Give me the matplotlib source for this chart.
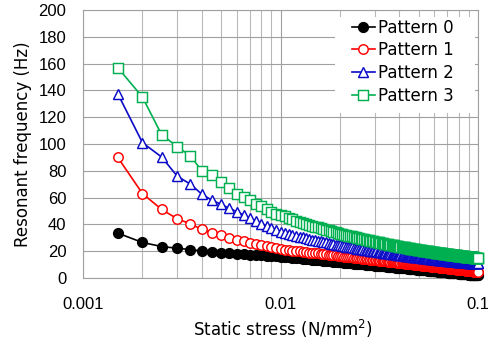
import matplotlib
matplotlib.use("Agg")
import matplotlib.pyplot as plt
from matplotlib.ticker import LogLocator, FuncFormatter, NullFormatter
from matplotlib.patches import Rectangle

# Static stress (N/mm^2)
stress = [
    0.0015, 0.002, 0.0025, 0.003, 0.0035, 0.004, 0.0045, 0.005, 0.0055, 0.006,
    0.0065, 0.007, 0.0075, 0.008, 0.0085, 0.009, 0.0095, 0.01,
    0.0105, 0.011, 0.0115, 0.012, 0.0125, 0.013, 0.0135, 0.014, 0.0145, 0.015,
    0.0155, 0.016, 0.0165, 0.017, 0.0175, 0.018, 0.0185, 0.019, 0.0195, 0.02,
    0.0205, 0.021, 0.0215, 0.022, 0.0225, 0.023, 0.0235, 0.024, 0.0245, 0.025,
    0.0255, 0.026, 0.0265, 0.027, 0.0275, 0.028, 0.0285, 0.029, 0.0295, 0.03,
    0.0305, 0.031, 0.0315, 0.032, 0.0325, 0.033, 0.0335, 0.034, 0.0345, 0.035,
    0.0355, 0.036, 0.0365, 0.037, 0.0375, 0.038, 0.0385, 0.039, 0.0395, 0.04,
    0.0405, 0.041, 0.0415, 0.042, 0.0425, 0.043, 0.0435, 0.044, 0.0445, 0.045,
    0.0455, 0.046, 0.0465, 0.047, 0.0475, 0.048, 0.0485, 0.049, 0.0495, 0.05,
    0.0505, 0.051, 0.0515, 0.052, 0.0525, 0.053, 0.0535, 0.054, 0.0545, 0.055,
    0.0555, 0.056, 0.0565, 0.057, 0.0575, 0.058, 0.0585, 0.059, 0.0595, 0.06,
    0.0605, 0.061, 0.0615, 0.062, 0.0625, 0.063, 0.0635, 0.064, 0.0645, 0.065,
    0.0655, 0.066, 0.0665, 0.067, 0.0675, 0.068, 0.0685, 0.069, 0.0695, 0.07,
    0.0705, 0.071, 0.0715, 0.072, 0.0725, 0.073, 0.0735, 0.074, 0.0745, 0.075,
    0.0755, 0.076, 0.0765, 0.077, 0.0775, 0.078, 0.0785, 0.079, 0.0795, 0.08,
    0.0805, 0.081, 0.0815, 0.082, 0.0825, 0.083, 0.0835, 0.084, 0.0845, 0.085,
    0.0855, 0.086, 0.0865, 0.087, 0.0875, 0.088, 0.0885, 0.089, 0.0895, 0.09,
    0.0905, 0.091, 0.0915, 0.092, 0.0925, 0.093, 0.0935, 0.094, 0.0945, 0.095,
    0.0955, 0.096, 0.0965, 0.097, 0.0975, 0.098, 0.0985, 0.099, 0.0995, 0.1,
]

pattern0 = [
    33.5, 26.5, 23.5, 22.2, 21.2, 20.2, 19.6, 19.0, 18.5, 18.0,
    17.6, 17.3, 17.0, 16.8, 16.6, 16.4, 16.2, 16.0,
    15.7, 15.4, 15.2, 14.9, 14.6, 14.4, 14.2, 14.0, 13.7, 13.5,
    13.3, 13.1, 13.0, 12.8, 12.6, 12.4, 12.3, 12.1, 11.9, 11.8,
    11.6, 11.5, 11.4, 11.2, 11.1, 10.9, 10.8, 10.7, 10.6, 10.4,
    10.3, 10.2, 10.1, 10.0, 9.9, 9.7, 9.6, 9.5, 9.4, 9.3,
    9.2, 9.1, 9.0, 8.9, 8.8, 8.7, 8.7, 8.6, 8.5, 8.4,
    8.3, 8.2, 8.1, 8.1, 8.0, 7.9, 7.8, 7.7, 7.7, 7.6,
    7.5, 7.4, 7.4, 7.3, 7.2, 7.1, 7.1, 7.0, 6.9, 6.9,
    6.8, 6.7, 6.7, 6.6, 6.5, 6.5, 6.4, 6.3, 6.3, 6.2,
    6.2, 6.1, 6.0, 6.0, 5.9, 5.9, 5.8, 5.8, 5.7, 5.6,
    5.6, 5.5, 5.5, 5.4, 5.4, 5.3, 5.3, 5.2, 5.2, 5.1,
    5.1, 5.0, 5.0, 4.9, 4.9, 4.8, 4.8, 4.7, 4.7, 4.6,
    4.6, 4.5, 4.5, 4.4, 4.4, 4.3, 4.3, 4.3, 4.2, 4.2,
    4.1, 4.1, 4.0, 4.0, 4.0, 3.9, 3.9, 3.8, 3.8, 3.8,
    3.7, 3.7, 3.6, 3.6, 3.6, 3.5, 3.5, 3.4, 3.4, 3.4,
    3.3, 3.3, 3.2, 3.2, 3.2, 3.1, 3.1, 3.1, 3.0, 3.0,
    3.0, 2.9, 2.9, 2.9, 2.8, 2.8, 2.7, 2.7, 2.7, 2.6,
    2.6, 2.6, 2.5, 2.5, 2.5, 2.4, 2.4, 2.4, 2.3, 2.3,
    2.3, 2.2, 2.2, 2.2, 2.2, 2.1, 2.1, 2.1, 2.0, 2.0,
]

pattern1 = [
    90.0, 63.0, 51.2, 44.2, 40.4, 36.2, 33.7, 31.9, 30.0, 28.7,
    27.4, 26.3, 25.3, 24.4, 23.6, 22.8, 22.1, 21.5,
    21.1, 20.8, 20.5, 20.2, 19.9, 19.6, 19.3, 19.0, 18.8, 18.5,
    18.3, 18.0, 17.8, 17.6, 17.4, 17.2, 17.0, 16.8, 16.6, 16.4,
    16.2, 16.0, 15.9, 15.7, 15.5, 15.4, 15.2, 15.0, 14.9, 14.7,
    14.6, 14.4, 14.3, 14.2, 14.0, 13.9, 13.8, 13.6, 13.5, 13.4,
    13.3, 13.2, 13.0, 12.9, 12.8, 12.7, 12.6, 12.5, 12.4, 12.3,
    12.2, 12.0, 11.9, 11.8, 11.7, 11.6, 11.6, 11.5, 11.4, 11.3,
    11.2, 11.1, 11.0, 10.9, 10.8, 10.7, 10.7, 10.6, 10.5, 10.4,
    10.3, 10.2, 10.2, 10.1, 10.0, 9.9, 9.8, 9.8, 9.7, 9.6,
    9.5, 9.5, 9.4, 9.3, 9.3, 9.2, 9.1, 9.1, 9.0, 8.9,
    8.9, 8.8, 8.7, 8.7, 8.6, 8.5, 8.5, 8.4, 8.3, 8.3,
    8.2, 8.2, 8.1, 8.0, 8.0, 7.9, 7.9, 7.8, 7.7, 7.7,
    7.6, 7.6, 7.5, 7.5, 7.4, 7.4, 7.3, 7.2, 7.2, 7.1,
    7.1, 7.0, 7.0, 6.9, 6.9, 6.8, 6.8, 6.7, 6.7, 6.6,
    6.6, 6.5, 6.5, 6.4, 6.4, 6.3, 6.3, 6.2, 6.2, 6.2,
    6.1, 6.1, 6.0, 6.0, 5.9, 5.9, 5.8, 5.8, 5.7, 5.7,
    5.7, 5.6, 5.6, 5.5, 5.5, 5.4, 5.4, 5.4, 5.3, 5.3,
    5.2, 5.2, 5.2, 5.1, 5.1, 5.0, 5.0, 5.0, 4.9, 4.9,
    4.8, 4.8, 4.8, 4.7, 4.7, 4.7, 4.6, 4.6, 4.5, 4.5,
]

pattern2 = [
    137.5, 101.0, 90.3, 76.0, 70.0, 62.5, 58.0, 55.0, 52.0, 49.5,
    47.0, 44.5, 42.5, 40.5, 38.8, 37.2, 35.8, 34.5,
    33.7, 32.9, 32.2, 31.5, 30.9, 30.3, 29.7, 29.2, 28.7, 28.2,
    27.7, 27.3, 26.9, 26.5, 26.1, 25.7, 25.4, 25.0, 24.7, 24.4,
    24.1, 23.8, 23.5, 23.3, 23.0, 22.8, 22.5, 22.3, 22.0, 21.8,
    21.6, 21.4, 21.2, 21.0, 20.8, 20.6, 20.4, 20.3, 20.1, 19.9,
    19.8, 19.6, 19.4, 19.3, 19.1, 19.0, 18.9, 18.7, 18.6, 18.4,
    18.3, 18.2, 18.1, 17.9, 17.8, 17.7, 17.6, 17.5, 17.4, 17.3,
    17.1, 17.0, 16.9, 16.8, 16.7, 16.6, 16.5, 16.4, 16.4, 16.3,
    16.2, 16.1, 16.0, 15.9, 15.8, 15.7, 15.7, 15.6, 15.5, 15.4,
    15.4, 15.3, 15.2, 15.1, 15.1, 15.0, 14.9, 14.9, 14.8, 14.7,
    14.6, 14.6, 14.5, 14.5, 14.4, 14.3, 14.3, 14.2, 14.1, 14.1,
    14.0, 14.0, 13.9, 13.9, 13.8, 13.8, 13.7, 13.6, 13.6, 13.5,
    13.5, 13.4, 13.4, 13.3, 13.3, 13.2, 13.2, 13.1, 13.1, 13.0,
    13.0, 13.0, 12.9, 12.9, 12.8, 12.8, 12.7, 12.7, 12.6, 12.6,
    12.6, 12.5, 12.5, 12.4, 12.4, 12.4, 12.3, 12.3, 12.2, 12.2,
    12.2, 12.1, 12.1, 12.1, 12.0, 12.0, 11.9, 11.9, 11.9, 11.8,
    11.8, 11.8, 11.7, 11.7, 11.7, 11.6, 11.6, 11.6, 11.5, 11.5,
    11.5, 11.4, 11.4, 11.4, 11.3, 11.3, 11.3, 11.3, 11.2, 11.2,
    11.2, 11.1, 11.1, 11.1, 11.0, 11.0, 11.0, 11.0, 10.9, 10.9,
]

pattern3 = [
    157.0, 135.0, 107.0, 98.0, 91.0, 80.0, 77.0, 71.5, 67.0, 63.0,
    60.5, 58.0, 55.5, 53.5, 51.5, 49.5, 48.0, 47.0,
    45.9, 44.8, 43.8, 42.9, 42.0, 41.2, 40.5, 39.7, 39.0, 38.4,
    37.8, 37.2, 36.6, 36.1, 35.5, 35.0, 34.6, 34.1, 33.7, 33.2,
    32.8, 32.4, 32.1, 31.7, 31.3, 31.0, 30.7, 30.3, 30.0, 29.7,
    29.4, 29.2, 28.9, 28.6, 28.3, 28.1, 27.8, 27.6, 27.4, 27.1,
    26.9, 26.7, 26.5, 26.3, 26.1, 25.9, 25.7, 25.5, 25.3, 25.1,
    24.9, 24.8, 24.6, 24.4, 24.3, 24.1, 24.0, 23.8, 23.6, 23.5,
    23.4, 23.2, 23.1, 22.9, 22.8, 22.7, 22.5, 22.4, 22.3, 22.2,
    22.0, 21.9, 21.8, 21.7, 21.6, 21.5, 21.3, 21.2, 21.1, 21.0,
    20.9, 20.8, 20.7, 20.6, 20.5, 20.4, 20.3, 20.2, 20.1, 20.0,
    20.0, 19.9, 19.8, 19.7, 19.6, 19.5, 19.4, 19.4, 19.3, 19.2,
    19.1, 19.0, 19.0, 18.9, 18.8, 18.7, 18.7, 18.6, 18.5, 18.4,
    18.4, 18.3, 18.2, 18.2, 18.1, 18.0, 18.0, 17.9, 17.8, 17.8,
    17.7, 17.6, 17.6, 17.5, 17.5, 17.4, 17.3, 17.3, 17.2, 17.2,
    17.1, 17.1, 17.0, 16.9, 16.9, 16.8, 16.8, 16.7, 16.7, 16.6,
    16.6, 16.5, 16.5, 16.4, 16.4, 16.3, 16.3, 16.2, 16.2, 16.1,
    16.1, 16.0, 16.0, 15.9, 15.9, 15.8, 15.8, 15.8, 15.7, 15.7,
    15.6, 15.6, 15.5, 15.5, 15.5, 15.4, 15.4, 15.3, 15.3, 15.3,
    15.2, 15.2, 15.1, 15.1, 15.1, 15.0, 15.0, 14.9, 14.9, 14.9,
]

labels = ["Pattern 0", "Pattern 1", "Pattern 2", "Pattern 3"]
x_tick_values = [0.001, 0.01, 0.1]
y_tick_values = [0, 20, 40, 60, 80, 100, 120, 140, 160, 180, 200]

TEXT_FONT = "DejaVu Sans"
TICK_FONT = "Liberation Sans"

fig = plt.figure(figsize=(4.88, 3.43), dpi=100)
ax = fig.add_axes([83 / 488, 1 - 278 / 343, 395 / 488, 268 / 343])

styles = [
    dict(color="#000000", marker="o", markerfacecolor="#000000", markersize=7.0),
    dict(color="#ff0000", marker="o", markerfacecolor="white", markersize=6.8),
    dict(color="#0a0ac8", marker="^", markerfacecolor="white", markersize=7.2),
    dict(color="#00b050", marker="s", markerfacecolor="white", markersize=6.8),
]
series = [pattern0, pattern1, pattern2, pattern3]
for ys, lab, st in zip(series, labels, styles):
    ax.plot(stress, ys, label=lab, linewidth=1.2, markeredgewidth=1.05,
            markeredgecolor=st["color"], clip_on=False, zorder=3, **st)

ax.set_xscale("log")
ax.set_xlim(0.001, 0.1)
ax.set_ylim(0, 200)
ax.set_yticks(y_tick_values)
ax.set_xticks(x_tick_values)
ax.xaxis.set_minor_locator(LogLocator(base=10, subs=range(2, 10), numticks=10))
ax.xaxis.set_major_formatter(FuncFormatter(lambda v, _: f"{v:g}"))
ax.xaxis.set_minor_formatter(NullFormatter())

ax.set_axisbelow(True)
ax.grid(True, which="major", axis="both", color="#a0a0a0", linewidth=0.8)
ax.grid(True, which="minor", axis="x", color="#b8b8b8", linewidth=0.8)
ax.tick_params(which="both", length=0)
ax.tick_params(axis="x", pad=13.5)
ax.tick_params(axis="y", pad=12)
for lbl in ax.get_xticklabels() + ax.get_yticklabels():
    lbl.set_fontfamily(TICK_FONT)
    lbl.set_fontsize(12)
for sp in ax.spines.values():
    sp.set_color("#a0a0a0")
    sp.set_linewidth(0.8)

ax.set_ylabel("Resonant frequency (Hz)", fontsize=12, family=TEXT_FONT)
ax.yaxis.set_label_coords(-0.128, 0.5)
ax.set_xlabel("Static stress (N/mm$^2$)", fontsize=12, family=TEXT_FONT)
ax.xaxis.set_label_coords(0.506, -0.148)

# white legend area
ax.add_patch(Rectangle((0.638, 0.616), 0.354, 0.358, transform=ax.transAxes,
                       facecolor="white", edgecolor="none", zorder=1))
leg = ax.legend(loc="upper left", bbox_to_anchor=(0.680, 0.968), frameon=False,
                borderaxespad=0, borderpad=0, handlelength=1.4,
                handletextpad=0.2, labelspacing=0.28,
                prop={"family": TEXT_FONT, "size": 12})
leg.set_zorder(5)

fig.savefig("out.png", dpi=100)
